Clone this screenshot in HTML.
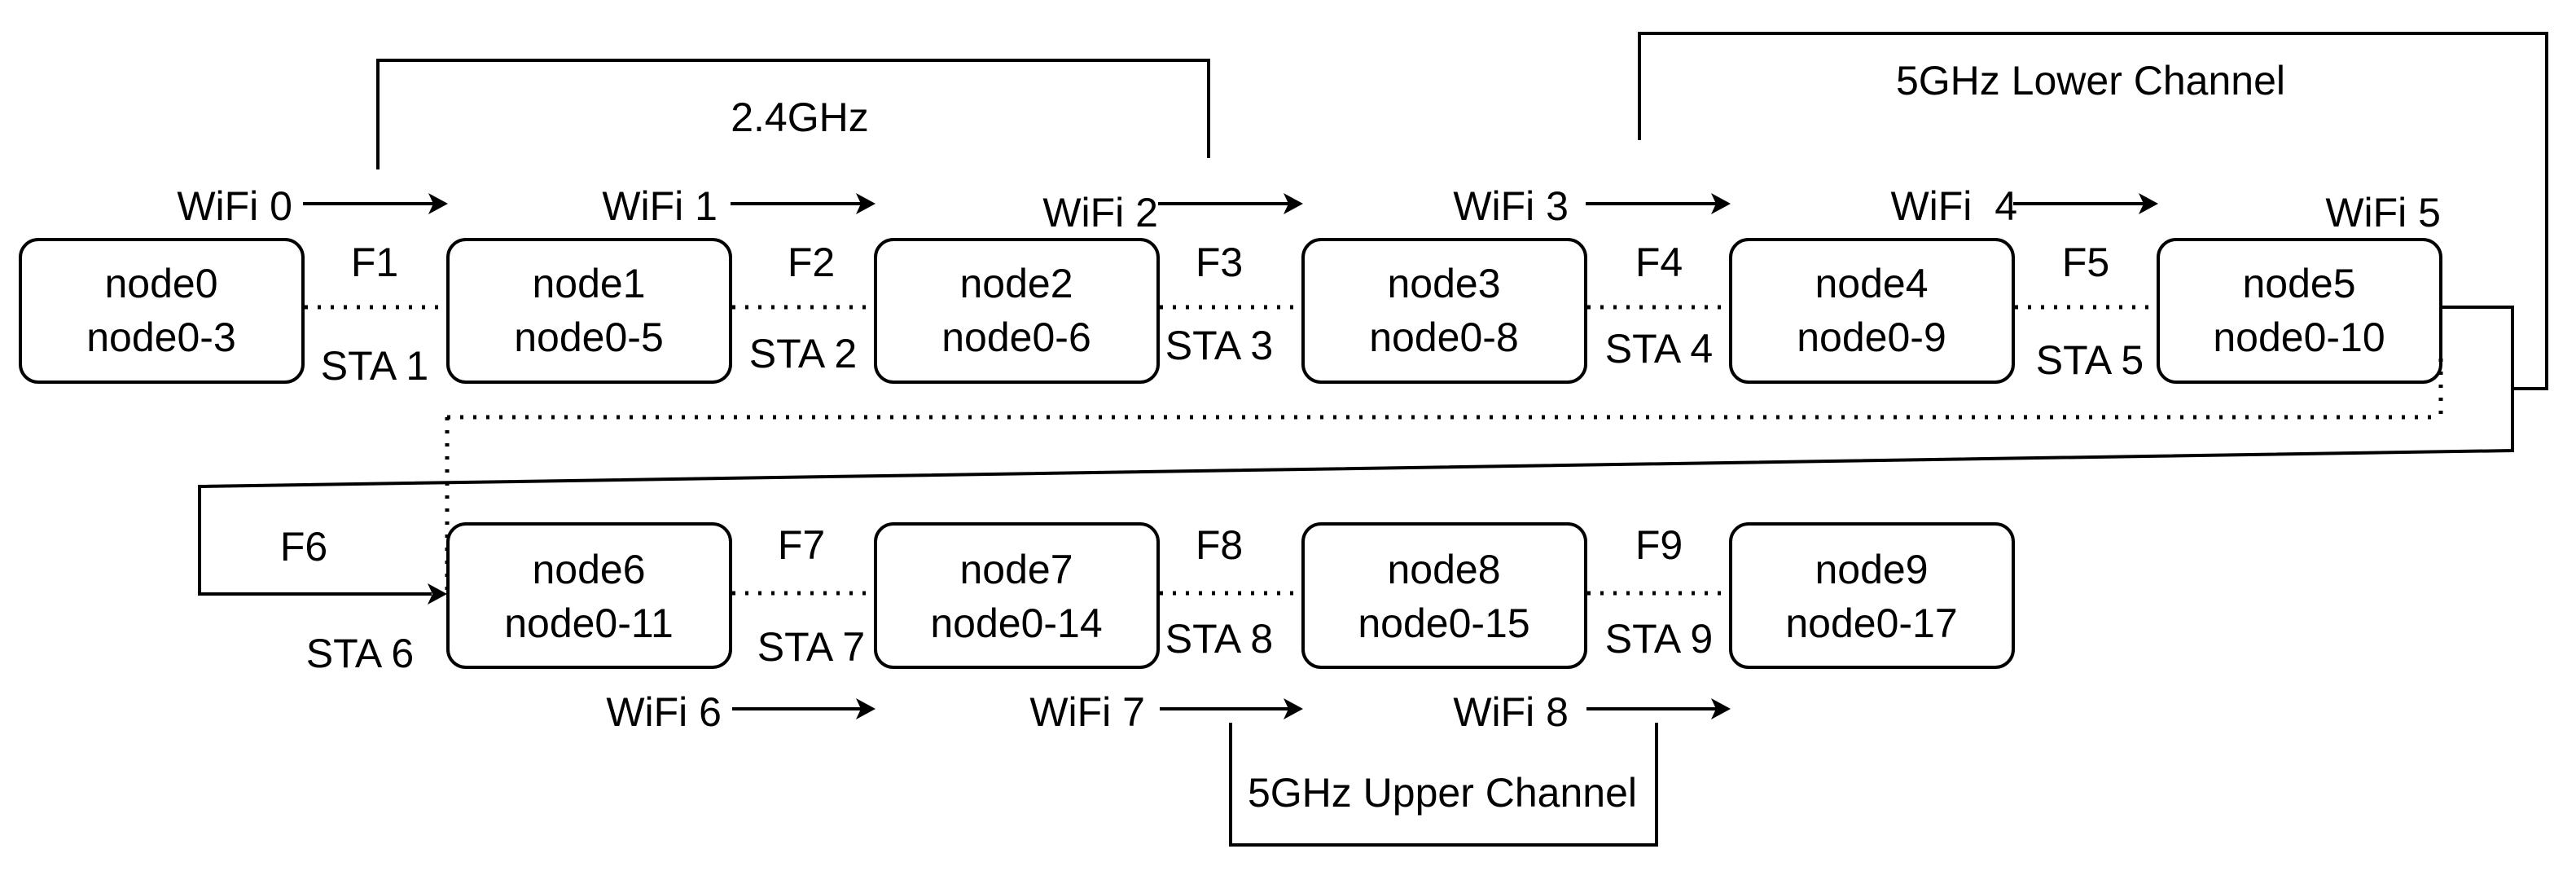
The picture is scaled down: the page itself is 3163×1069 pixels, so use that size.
<!DOCTYPE html>
<html><head><meta charset="utf-8"><style>
html,body{margin:0;padding:0;background:#fff;}
svg{display:block;}
text{font-family:"Liberation Sans",Arial,sans-serif;font-size:50px;fill:#000;}
</style></head><body>
<svg width="3163" height="1069" viewBox="0 0 3163 1069" xmlns="http://www.w3.org/2000/svg">
<g fill="none" stroke="#000" stroke-width="4">
<rect x="25" y="294" width="347" height="175" rx="22"/>
<rect x="550" y="294" width="347" height="175" rx="22"/>
<rect x="1075" y="294" width="347" height="175" rx="22"/>
<rect x="1600" y="294" width="347" height="175" rx="22"/>
<rect x="2125" y="294" width="347" height="175" rx="22"/>
<rect x="2650" y="294" width="347" height="175" rx="22"/>
<rect x="550" y="643" width="347" height="176" rx="22"/>
<rect x="1075" y="643" width="347" height="176" rx="22"/>
<rect x="1600" y="643" width="347" height="176" rx="22"/>
<rect x="2125" y="643" width="347" height="176" rx="22"/>
<polyline points="464,208 464,74 1484,74 1484,194"/>
<polyline points="2013,172 2013,41 3127,41 3127,477 3083,477"/>
<polyline points="1511,887 1511,1037 2034,1037 2034,887"/>
<polyline points="2997,377 3085,377 3085,553 245,597 245,729 530,729"/>
<line x1="372" y1="250" x2="535" y2="250"/>
<line x1="897" y1="250" x2="1060" y2="250"/>
<line x1="1422" y1="250" x2="1585" y2="250"/>
<line x1="1947" y1="250" x2="2110" y2="250"/>
<line x1="2472" y1="250" x2="2635" y2="250"/>
<line x1="899" y1="870" x2="1060" y2="870"/>
<line x1="1424" y1="870" x2="1585" y2="870"/>
<line x1="1948" y1="870" x2="2110" y2="870"/>
</g>
<g fill="#000">
<path d="M550,250 l-24,-13 l6,13 l-6,13 z"/>
<path d="M1075,250 l-24,-13 l6,13 l-6,13 z"/>
<path d="M1600,250 l-24,-13 l6,13 l-6,13 z"/>
<path d="M2125,250 l-24,-13 l6,13 l-6,13 z"/>
<path d="M2650,250 l-24,-13 l6,13 l-6,13 z"/>
<path d="M1075,870 l-24,-13 l6,13 l-6,13 z"/>
<path d="M1600,870 l-24,-13 l6,13 l-6,13 z"/>
<path d="M2125,870 l-24,-13 l6,13 l-6,13 z"/>
<path d="M549,729 l-24,-13 l6,13 l-6,13 z"/>
</g>
<g fill="none" stroke="#000" stroke-width="5" stroke-dasharray="4 12">
<line x1="374" y1="377" x2="550" y2="377"/>
<line x1="899" y1="377" x2="1075" y2="377"/>
<line x1="1424" y1="377" x2="1600" y2="377"/>
<line x1="1949" y1="377" x2="2125" y2="377"/>
<line x1="2474" y1="377" x2="2650" y2="377"/>
<line x1="549" y1="512" x2="2997" y2="512"/>
<line x1="2997" y1="440" x2="2997" y2="512"/>
<line x1="549" y1="512" x2="549" y2="730"/>
<line x1="899" y1="728" x2="1075" y2="728"/>
<line x1="1424" y1="728" x2="1600" y2="728"/>
<line x1="1949" y1="728" x2="2125" y2="728"/>
</g>
<g text-anchor="middle">
<text x="198" y="365">node0</text><text x="198" y="431">node0-3</text>
<text x="723" y="365">node1</text><text x="723" y="431">node0-5</text>
<text x="1248" y="365">node2</text><text x="1248" y="431">node0-6</text>
<text x="1773" y="365">node3</text><text x="1773" y="431">node0-8</text>
<text x="2298" y="365">node4</text><text x="2298" y="431">node0-9</text>
<text x="2823" y="365">node5</text><text x="2823" y="431">node0-10</text>
<text x="723" y="716">node6</text><text x="723" y="782">node0-11</text>
<text x="1248" y="716">node7</text><text x="1248" y="782">node0-14</text>
<text x="1773" y="716">node8</text><text x="1773" y="782">node0-15</text>
<text x="2298" y="716">node9</text><text x="2298" y="782">node0-17</text>
<text x="460" y="339">F1</text><text x="460" y="466">STA 1</text>
<text x="996" y="339">F2</text><text x="986" y="451">STA 2</text>
<text x="1497" y="339">F3</text><text x="1497" y="441">STA 3</text>
<text x="2037" y="339">F4</text><text x="2037" y="445">STA 4</text>
<text x="2561" y="339">F5</text><text x="2566" y="459">STA 5</text>
<text x="373" y="688">F6</text><text x="442" y="819">STA 6</text>
<text x="984" y="686">F7</text><text x="996" y="811">STA 7</text>
<text x="1497" y="686">F8</text><text x="1497" y="801">STA 8</text>
<text x="2037" y="686">F9</text><text x="2037" y="801">STA 9</text>
<text x="982" y="161">2.4GHz</text>
<text x="2567" y="116">5GHz Lower Channel</text>
<text x="1771" y="990">5GHz Upper Channel</text>
</g>
<g text-anchor="end">
<text x="359" y="270">WiFi 0</text>
<text x="881" y="270">WiFi 1</text>
<text x="1422" y="278">WiFi 2</text>
<text x="1926" y="270">WiFi 3</text>
<text x="2477" y="270" xml:space="preserve">WiFi  4</text>
<text x="2997" y="278">WiFi 5</text>
<text x="886" y="891">WiFi 6</text>
<text x="1406" y="891">WiFi 7</text>
<text x="1926" y="891">WiFi 8</text>
</g>
</svg>
</body></html>
